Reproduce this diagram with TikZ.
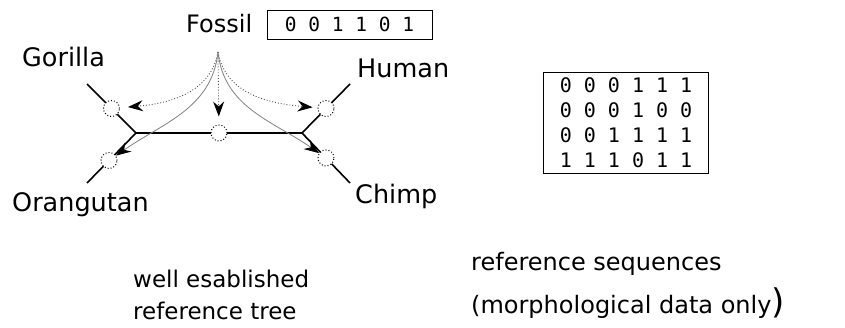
\documentclass[tikz,border=0pt]{standalone}
\usepackage{fontspec}
\setmainfont{DejaVu Sans}
\newfontfamily\monofont{DejaVu Sans Mono}
\usetikzlibrary{arrows.meta,calc}

\definecolor{dotgray}{gray}{0.3}
\definecolor{linegray}{gray}{0.5}

\tikzset{
  anc/.style={circle, draw, dotted, fill=white, line width=1pt, minimum size=16pt, inner sep=0pt},
  branch/.style={line width=1.6pt},
  guess/.style={dotgray, dotted, line width=0.9pt, -{Stealth[color=black, length=15pt, width=11pt, inset=5pt]}},
  place/.style={linegray, line width=0.8pt, -{Stealth[color=black, length=15pt, width=11pt, inset=5pt]}},
  lbl/.style={font=\fontsize{25.5}{30}\selectfont, inner sep=0pt},
  note/.style={font=\fontsize{23}{28}\selectfont, inner sep=0pt}
}

\begin{document}
\begin{tikzpicture}[x=1pt, y=1pt]
        \useasboundingbox (0,0) rectangle (845,327);

        % reference tree
        \coordinate (L) at (136,194);
        \coordinate (R) at (302,194);
        \coordinate (gt) at (87,243);
        \coordinate (ot) at (87,144);
        \coordinate (ht) at (350,243);
        \coordinate (ct) at (350,144);
        \draw[branch] (gt) -- (L) -- (ot);
        \draw[branch] (ht) -- (R) -- (ct);
        \draw[branch] (L) -- (R);
        \node[anc] (g) at ($(L)!0.5!(gt)$) {};
        \node[anc] (o) at ($(L)!0.55!(ot)$) {};
        \node[anc] (h) at ($(R)!0.5!(ht)$) {};
        \node[anc] (c) at ($(R)!0.5!(ct)$) {};
        \node[anc] (m) at ($(L)!0.5!(R)$) {};

        \node[lbl, anchor=base west] (gorilla) at (22,260) {Gorilla};
        \node[lbl, anchor=base west] (human) at (357,249) {Human};
        \node[lbl, anchor=base west] (orang) at (12,116) {Orangutan};
        \node[lbl, anchor=base west] (chimp) at (355,124) {Chimp};

        % fossil and its placements
        \node[lbl, font=\fontsize{24}{28}\selectfont, anchor=base west] (fossil) at (186,294) {Fossil};
        \node[draw, line width=0.9pt, minimum width=165pt, minimum height=29pt, inner sep=0pt,
              font=\monofont\fontsize{19.5}{19.5}\selectfont] (fseq) at (349.5,302.5) {0 0 1 1 0 1};
        \coordinate (src) at (218,275);
        \draw[guess, shorten >=8pt] (src) to[out=-100, in=5] (g);
        \draw[guess, shorten >=8pt] (src) -- (m);
        \draw[guess, shorten >=5pt] (src) to[out=-80, in=175] (h);
        \draw[place] (src) to[out=-96, in=35] (o);
        \draw[place] (src) to[out=-84, in=145] (c);

        % reference sequences
        \node[draw, line width=0.9pt, minimum width=165pt, minimum height=101pt, inner sep=0pt, align=center,
              font=\monofont\fontsize{20}{25}\selectfont] (rseq) at (626,204.5)
              {0 0 0 1 1 1\\0 0 0 1 0 0\\0 0 1 1 1 1\\1 1 1 0 1 1};

        \node[note, anchor=base west] (tree1) at (133,40) {well esablished};
        \node[note, anchor=base west] (tree2) at (133,8) {reference tree};
        \node[note, font=\fontsize{24}{28}\selectfont, anchor=base west] (seq1) at (471,57) {reference sequences};
        \node[note, font=\fontsize{24}{28}\selectfont, anchor=base west] (seq2) at (471,14) {(morphological data only{\fontsize{34}{34}\selectfont)}};
    \end{tikzpicture}
\end{document}
